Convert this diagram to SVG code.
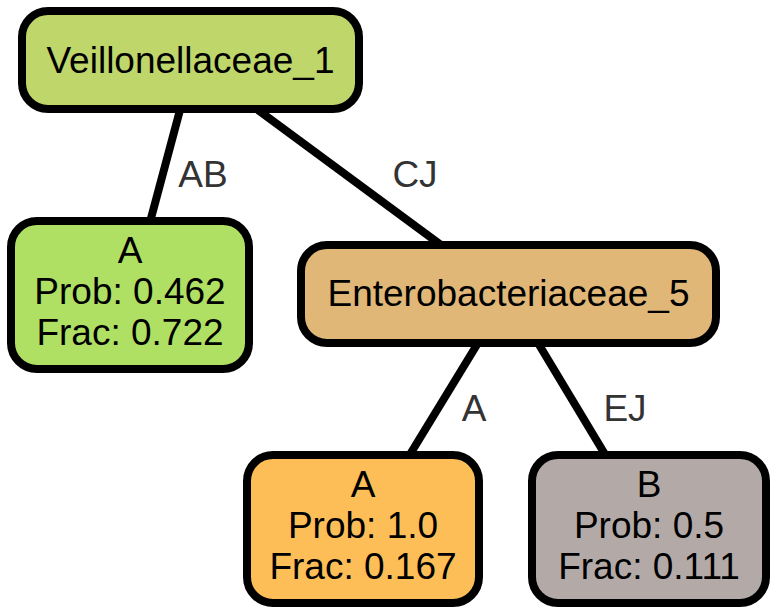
<svg xmlns="http://www.w3.org/2000/svg" width="779" height="613" viewBox="0 0 779 613">
<style>
.node rect{stroke:#000;stroke-width:8}
.node text{font-family:"Liberation Sans",Arial,Helvetica,sans-serif;font-size:37px;fill:#000;text-anchor:middle}
.edges line{stroke:#000;stroke-width:8}
.edges text{font-family:"Liberation Sans",Arial,Helvetica,sans-serif;font-size:37px;fill:#333;text-anchor:middle}
</style>
<rect width="779" height="613" fill="#fff"/>
<g class="edges" id="connectors">
<line x1="180" y1="110" x2="150" y2="222"/>
<line x1="258" y1="110" x2="441" y2="245"/>
<line x1="478" y1="343" x2="409" y2="456"/>
<line x1="538" y1="343" x2="606" y2="456"/>
<text x="203" y="187">AB</text>
<text x="415" y="187">CJ</text>
<text x="474" y="421">A</text>
<text x="625" y="421">EJ</text>
</g>
<g class="node" id="node_root">
<rect x="22" y="11" width="337" height="98" rx="26" fill="#BFD66A"/>
<text x="190.5" y="73">Veillonellaceae_1</text>
</g>
<g class="node" id="node_A1">
<rect x="11" y="221" width="238" height="148" rx="26" fill="#B0E063"/>
<text x="130" y="263">A</text>
<text x="130" y="304">Prob: 0.462</text>
<text x="130" y="345">Frac: 0.722</text>
</g>
<g class="node" id="node_entero">
<rect x="301" y="245" width="415" height="98" rx="26" fill="#E0B777"/>
<text x="508.5" y="306">Enterobacteriaceae_5</text>
</g>
<g class="node" id="node_A2">
<rect x="247" y="455" width="232" height="148" rx="26" fill="#FDBE57"/>
<text x="363" y="497">A</text>
<text x="363" y="538">Prob: 1.0</text>
<text x="363" y="579">Frac: 0.167</text>
</g>
<g class="node" id="node_B">
<rect x="532" y="455" width="234" height="148" rx="26" fill="#B3AAA8"/>
<text x="649" y="497">B</text>
<text x="649" y="538">Prob: 0.5</text>
<text x="649" y="579">Frac: 0.111</text>
</g>
</svg>
